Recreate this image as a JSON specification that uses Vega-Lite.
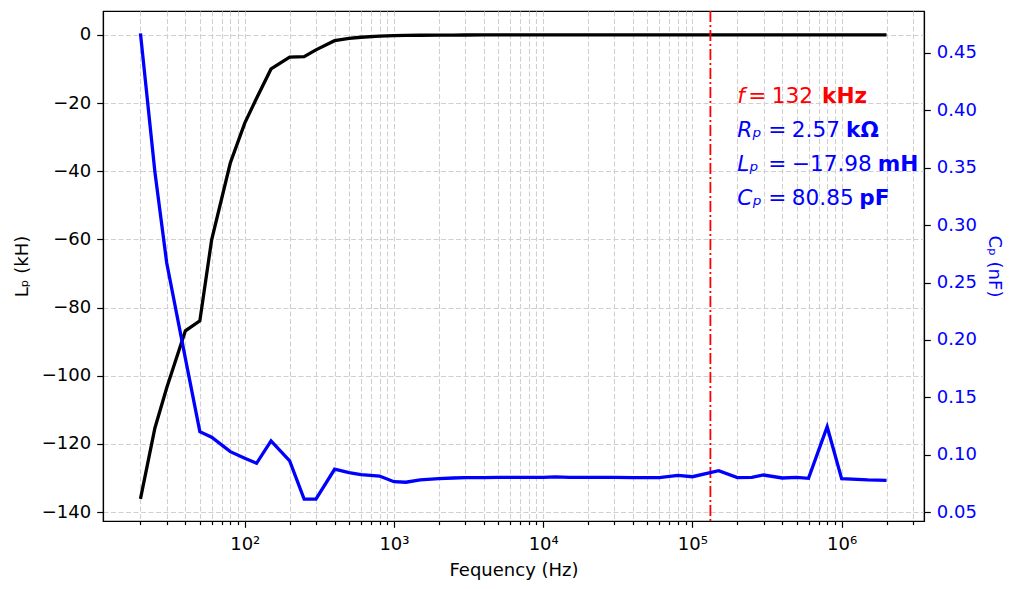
{
  "$schema": "https://vega.github.io/schema/vega-lite/v6.json",
  "width": 821,
  "height": 510,
  "autosize": {"type": "none"},
  "padding": {"left": 103, "top": 11, "right": 91, "bottom": 68},
  "background": "white",
  "config": {
    "view": {"stroke": "black", "strokeWidth": 1.2},
    "font": "DejaVu Sans",
    "axis": {
      "labelFont": "DejaVu Sans",
      "titleFont": "DejaVu Sans",
      "labelFontSize": 18,
      "titleFontSize": 18,
      "titleFontWeight": "normal",
      "labelColor": "black",
      "titleColor": "black",
      "domainColor": "black",
      "domainWidth": 1.2,
      "tickColor": "black",
      "tickWidth": 1.2,
      "gridColor": "#d0d0d0",
      "gridDash": [5, 2.5],
      "gridWidth": 1.1
    },
    "text": {"font": "DejaVu Sans", "fontSize": 21.6, "align": "left", "baseline": "alphabetic"}
  },
  "datasets": {
    "meas": [
      {"f": 20, "Lp": -136.1, "Cp": 0.4667},
      {"f": 25, "Lp": -115.3, "Cp": 0.346},
      {"f": 30, "Lp": -103.5, "Cp": 0.267},
      {"f": 40, "Lp": -86.8, "Cp": 0.184},
      {"f": 50, "Lp": -83.9, "Cp": 0.1203},
      {"f": 60, "Lp": -60.1, "Cp": 0.1154},
      {"f": 80, "Lp": -37.6, "Cp": 0.1029},
      {"f": 100, "Lp": -25.9, "Cp": 0.0971},
      {"f": 120, "Lp": -18.6, "Cp": 0.0928},
      {"f": 150, "Lp": -10.0, "Cp": 0.1122},
      {"f": 200, "Lp": -6.5, "Cp": 0.0948},
      {"f": 250, "Lp": -6.4, "Cp": 0.0617},
      {"f": 300, "Lp": -4.4, "Cp": 0.0617},
      {"f": 400, "Lp": -1.7, "Cp": 0.0876},
      {"f": 500, "Lp": -1.0, "Cp": 0.0846},
      {"f": 600, "Lp": -0.7, "Cp": 0.0829},
      {"f": 800, "Lp": -0.4, "Cp": 0.0817},
      {"f": 1000, "Lp": -0.25, "Cp": 0.0768},
      {"f": 1200, "Lp": -0.17, "Cp": 0.0763},
      {"f": 1500, "Lp": -0.11, "Cp": 0.0783},
      {"f": 2000, "Lp": -0.07, "Cp": 0.0794},
      {"f": 2500, "Lp": -0.05, "Cp": 0.08},
      {"f": 3000, "Lp": -0.04, "Cp": 0.0803},
      {"f": 4000, "Lp": -0.03, "Cp": 0.0804},
      {"f": 5000, "Lp": -0.03, "Cp": 0.0805},
      {"f": 6000, "Lp": -0.02, "Cp": 0.0805},
      {"f": 8000, "Lp": -0.02, "Cp": 0.0805},
      {"f": 10000, "Lp": -0.02, "Cp": 0.0805},
      {"f": 12000, "Lp": -0.02, "Cp": 0.081},
      {"f": 15000, "Lp": -0.02, "Cp": 0.0806},
      {"f": 20000, "Lp": -0.02, "Cp": 0.0805},
      {"f": 25000, "Lp": -0.02, "Cp": 0.0805},
      {"f": 30000, "Lp": -0.02, "Cp": 0.0805},
      {"f": 40000, "Lp": -0.02, "Cp": 0.0804},
      {"f": 50000, "Lp": -0.02, "Cp": 0.0804},
      {"f": 60000, "Lp": -0.02, "Cp": 0.0803},
      {"f": 80000, "Lp": -0.02, "Cp": 0.0823},
      {"f": 100000, "Lp": -0.02, "Cp": 0.0811},
      {"f": 150000, "Lp": -0.018, "Cp": 0.0864},
      {"f": 200000, "Lp": -0.018, "Cp": 0.0803},
      {"f": 250000, "Lp": -0.018, "Cp": 0.0806},
      {"f": 300000, "Lp": -0.018, "Cp": 0.0826},
      {"f": 400000, "Lp": -0.018, "Cp": 0.08},
      {"f": 500000, "Lp": -0.018, "Cp": 0.0806},
      {"f": 600000, "Lp": -0.018, "Cp": 0.0797},
      {"f": 800000, "Lp": -0.018, "Cp": 0.1246},
      {"f": 1000000, "Lp": -0.018, "Cp": 0.0794},
      {"f": 1500000, "Lp": -0.018, "Cp": 0.0783},
      {"f": 2000000, "Lp": -0.018, "Cp": 0.078}
    ],
    "marker": [{"f": 132000}],
    "notes": [
      {"f": 200000, "Lp": -20, "sym": "f", "val": "=\u2005132", "unit": "kHz", "k": "f"},
      {"f": 200000, "Lp": -30, "sym": "Rₚ", "val": "=\u20052.57", "unit": "kΩ", "k": "R"},
      {"f": 200000, "Lp": -40, "sym": "Lₚ", "val": "=\u2005−17.98", "unit": "mH", "k": "L"},
      {"f": 200000, "Lp": -50, "sym": "Cₚ", "val": "=\u200580.85", "unit": "pF", "k": "C"}
    ]
  },
  "layer": [
    {
      "layer": [
        {
          "data": {"name": "meas"},
          "mark": {"type": "line", "color": "black", "strokeWidth": 3.3},
          "encoding": {
            "x": {
              "field": "f",
              "type": "quantitative",
              "scale": {"type": "log", "domain": [11.22, 3565000], "nice": false},
              "axis": {
                "title": "Fequency (Hz)",
                "values": [20, 30, 40, 50, 60, 70, 80, 90,
                           100, 200, 300, 400, 500, 600, 700, 800, 900,
                           1000, 2000, 3000, 4000, 5000, 6000, 7000, 8000, 9000,
                           10000, 20000, 30000, 40000, 50000, 60000, 70000, 80000, 90000,
                           100000, 200000, 300000, 400000, 500000, 600000, 700000, 800000, 900000,
                           1000000, 2000000, 3000000],
                "labelExpr": "abs(log(datum.value)/LN10 - round(log(datum.value)/LN10)) < 0.001 ? '10' + ['⁰','¹','²','³','⁴','⁵','⁶','⁷'][round(log(datum.value)/LN10)] : ''",
                "labelOverlap": false,
                "labelFlush": false,
                "labelBound": false,
                "grid": true,
                "tickSize": {"condition": {"test": "abs(log(datum.value)/LN10 - round(log(datum.value)/LN10)) < 0.001", "value": 6.3}, "value": 3.6},
                "labelPadding": 8,
                "titlePadding": 8
              }
            },
            "y": {
              "field": "Lp",
              "type": "quantitative",
              "scale": {"domain": [-142.6, 7.0], "nice": false, "zero": false},
              "axis": {
                "title": "Lₚ (kH)",
                "values": [-140, -120, -100, -80, -60, -40, -20, 0],
                "format": "d",
                "grid": true,
                "tickSize": 6.3,
                "labelPadding": 6,
                "titlePadding": 10
              }
            }
          }
        },
        {
          "data": {"name": "marker"},
          "mark": {"type": "rule", "color": "#ff0000", "strokeWidth": 1.8, "strokeDash": [11, 3, 2, 3]},
          "encoding": {
            "x": {"field": "f", "type": "quantitative"}
          }
        },
        {
          "data": {"name": "notes"},
          "mark": {"type": "text", "fontStyle": "italic"},
          "encoding": {
            "x": {"field": "f", "type": "quantitative"},
            "y": {"field": "Lp", "type": "quantitative"},
            "text": {"field": "sym"},
            "color": {"field": "k", "type": "nominal", "legend": null,
                      "scale": {"domain": ["f", "R", "L", "C"], "range": ["#ff0000", "#0000ff", "#0000ff", "#0000ff"]}}
          }
        },
        {
          "data": {"name": "notes"},
          "transform": [{"filter": "datum.k == 'f'"}],
          "mark": {"type": "text", "dx": 11},
          "encoding": {
            "x": {"field": "f", "type": "quantitative"},
            "y": {"field": "Lp", "type": "quantitative"},
            "text": {"field": "val"},
            "color": {"field": "k", "type": "nominal", "legend": null}
          }
        },
        {
          "data": {"name": "notes"},
          "transform": [{"filter": "datum.k != 'f'"}],
          "mark": {"type": "text", "dx": 31},
          "encoding": {
            "x": {"field": "f", "type": "quantitative"},
            "y": {"field": "Lp", "type": "quantitative"},
            "text": {"field": "val"},
            "color": {"field": "k", "type": "nominal", "legend": null}
          }
        },
        {
          "data": {"name": "notes"},
          "transform": [{"filter": "datum.k == 'f'"}],
          "mark": {"type": "text", "fontWeight": "bold", "dx": 84.7},
          "encoding": {
            "x": {"field": "f", "type": "quantitative"},
            "y": {"field": "Lp", "type": "quantitative"},
            "text": {"field": "unit"},
            "color": {"field": "k", "type": "nominal", "legend": null}
          }
        },
        {
          "data": {"name": "notes"},
          "transform": [{"filter": "datum.k == 'R'"}],
          "mark": {"type": "text", "fontWeight": "bold", "dx": 108.7},
          "encoding": {
            "x": {"field": "f", "type": "quantitative"},
            "y": {"field": "Lp", "type": "quantitative"},
            "text": {"field": "unit"},
            "color": {"field": "k", "type": "nominal", "legend": null}
          }
        },
        {
          "data": {"name": "notes"},
          "transform": [{"filter": "datum.k == 'L'"}],
          "mark": {"type": "text", "fontWeight": "bold", "dx": 140.3},
          "encoding": {
            "x": {"field": "f", "type": "quantitative"},
            "y": {"field": "Lp", "type": "quantitative"},
            "text": {"field": "unit"},
            "color": {"field": "k", "type": "nominal", "legend": null}
          }
        },
        {
          "data": {"name": "notes"},
          "transform": [{"filter": "datum.k == 'C'"}],
          "mark": {"type": "text", "fontWeight": "bold", "dx": 122},
          "encoding": {
            "x": {"field": "f", "type": "quantitative"},
            "y": {"field": "Lp", "type": "quantitative"},
            "text": {"field": "unit"},
            "color": {"field": "k", "type": "nominal", "legend": null}
          }
        }
      ]
    },
    {
      "data": {"name": "meas"},
      "mark": {"type": "line", "color": "#0000ff", "strokeWidth": 3.3},
      "encoding": {
        "x": {"field": "f", "type": "quantitative"},
        "y": {
          "field": "Cp",
          "type": "quantitative",
          "scale": {"domain": [0.0426, 0.4861], "nice": false, "zero": false},
          "axis": {
            "orient": "right",
            "title": "Cₚ (nF)",
            "titleColor": "#0000ff",
            "labelColor": "#0000ff",
            "values": [0.05, 0.1, 0.15, 0.2, 0.25, 0.3, 0.35, 0.4, 0.45],
            "format": ".2f",
            "grid": false,
            "tickSize": 6.3,
            "labelPadding": 6,
            "titlePadding": 8
          }
        }
      }
    }
  ],
  "resolve": {"scale": {"y": "independent"}}
}
